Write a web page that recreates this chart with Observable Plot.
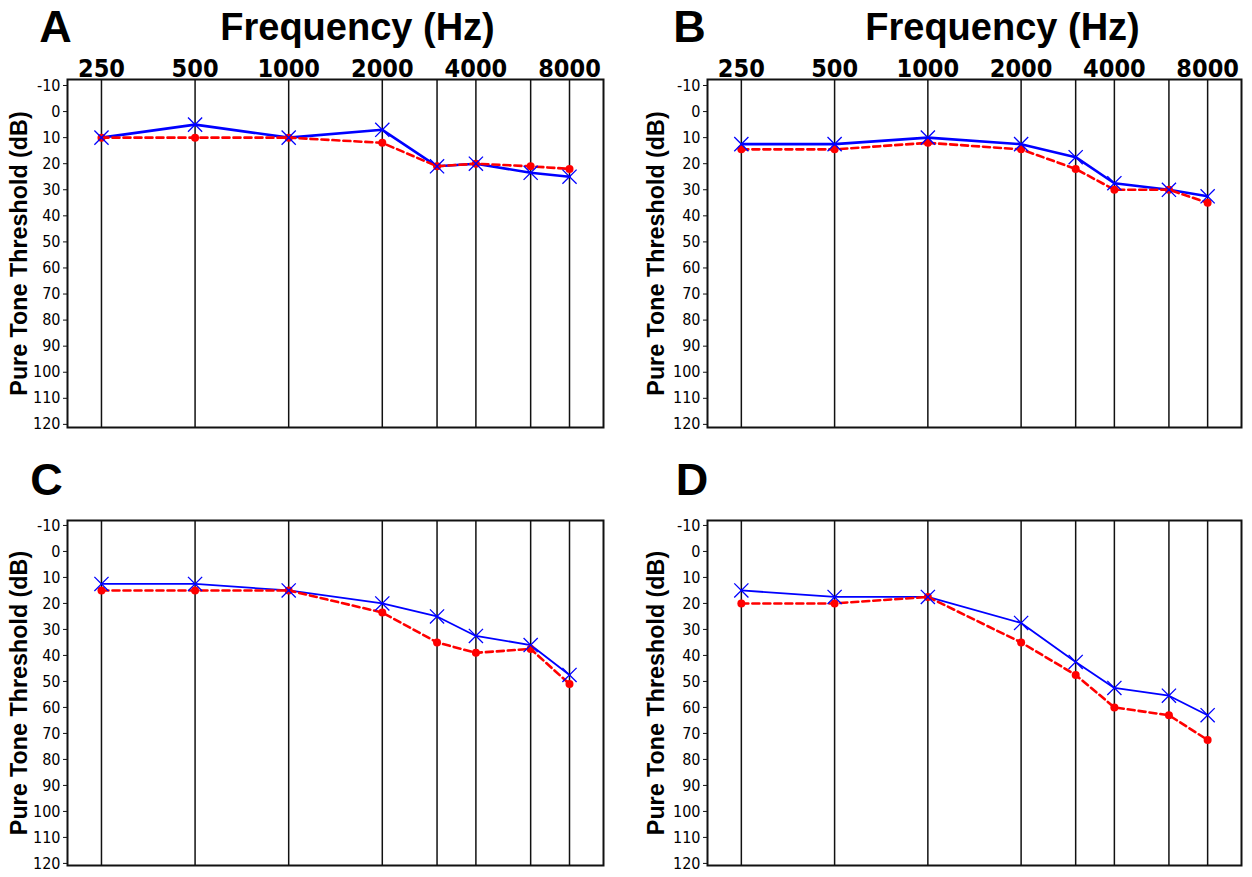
<!DOCTYPE html>
<html>
<head>
<meta charset="utf-8">
<script src="https://cdn.jsdelivr.net/npm/d3@7"></script>
<script src="https://cdn.jsdelivr.net/npm/@observablehq/plot@0.6"></script>
<style>
  html, body { margin: 0; padding: 0; background: #ffffff; }
  #root { position: relative; width: 1252px; height: 877px; overflow: hidden; background: #fff; }
  .cell { position: absolute; }
</style>
</head>
<body>
<div id="root"></div>
<script>
// ---- data ----
const freqs = [250, 500, 1000, 2000, 3000, 4000, 6000, 8000];
const freqLabels = [250, 500, 1000, 2000, 4000, 8000];
const dbTicks = [-10, 0, 10, 20, 30, 40, 50, 60, 70, 80, 90, 100, 110, 120];
const xTitle = "Frequency (Hz)";
const yTitle = "Pure Tone Threshold (dB)";

const blueA = [10, 5, 10, 7, 21, 20, 23.5, 25];
const redA  = [10, 10, 10, 12, 21, 20, 21, 22];
const blueB = [12.5, 12.5, 10, 12.5, 17.5, 27.5, 30, 32.5];
const redB  = [14.5, 14.5, 12, 14.5, 22, 30, 30, 35];
const blueC = [12.5, 12.5, 15, 20, 25, 32.5, 36, 47.5];
const redC  = [15, 15, 15, 23.5, 35, 39, 37.5, 51];
const blueD = [15, 17.5, 17.5, 27.5, 42.5, 52.5, 55.5, 63];
const redD  = [20, 20, 17.5, 35, 47.5, 60, 63, 72.5];

const panels = [
  {letter: "A", blue: blueA, red: redA, top: true,  left: 0,   topPx: 0,   h: 438, mL: 67, mR: 23, mT: 79, mB: 11, ydom: [-12.3, 121.2], lDx: -12, lDy: -51.5, tDx: 22, yDx: -48, bw: 2.6},
  {letter: "B", blue: blueB, red: redB, top: true,  left: 626, topPx: 0,   h: 438, mL: 81, mR: 11, mT: 79, mB: 11, ydom: [-12.3, 121.2], lDx: -18, lDy: -51.5, tDx: 28, yDx: -51, bw: 2.6},
  {letter: "C", blue: blueC, red: redC, top: false, left: 0,   topPx: 438, h: 439, mL: 67, mR: 23, mT: 82, mB: 12, ydom: [-11.9, 120.8], lDx: -21, lDy: -40, tDx: 0, yDx: -48, bw: 1.8},
  {letter: "D", blue: blueD, red: redD, top: false, left: 626, topPx: 438, h: 439, mL: 81, mR: 11, mT: 82, mB: 12, ydom: [-11.9, 120.8], lDx: -15.5, lDy: -40, tDx: 0, yDx: -51, bw: 1.8}
];

const boldFont = "'Liberation Sans', Arial, sans-serif";
const condFont = "'DejaVu Sans Condensed', 'DejaVu Sans', sans-serif";

const root = document.getElementById("root");

for (const p of panels) {
  const rows = freqs.map((f, i) => ({f, blue: p.blue[i], red: p.red[i]}));
  const marks = [
    Plot.ruleX(freqs, {stroke: "#111", strokeWidth: 1.5}),
    Plot.frame({stroke: "#111", strokeWidth: 2}),
    Plot.axisY({anchor: "left", ticks: dbTicks, tickSize: 4, tickPadding: 3,
      tickFormat: d => String(d), fontSize: 16, fontFamily: condFont, label: null, stroke: "#111"}),
    Plot.line(rows, {x: "f", y: "blue", stroke: "#0000ff", strokeWidth: p.bw}),
    Plot.line(rows, {x: "f", y: "red", stroke: "#ff0000", strokeWidth: 2.6, strokeDasharray: "7,4"}),
    Plot.dot(rows, {x: "f", y: "red", fill: "#ff0000", r: 4}),
    Plot.dot(rows, {x: "f", y: "blue", symbol: "times", stroke: "#0000ff", strokeWidth: 1.3, r: 6.5}),
    Plot.text([p.letter], {frameAnchor: "top-left", text: d => d, dx: p.lDx, dy: p.lDy,
      textAnchor: "middle", lineAnchor: "middle", fontSize: 45, fontWeight: "bold", fontFamily: boldFont, fill: "#000"}),
    Plot.text([yTitle], {frameAnchor: "left", text: d => d, dx: p.yDx, rotate: -90,
      textAnchor: "middle", lineAnchor: "middle", fontSize: 23.3, fontWeight: "bold", fontFamily: boldFont, fill: "#000"})
  ];
  if (p.top) {
    marks.push(
      Plot.text(freqLabels, {x: d => d, frameAnchor: "top", text: d => String(d), dy: -3,
        textAnchor: "middle", lineAnchor: "bottom", fontSize: 25, fontWeight: "bold", fontFamily: condFont, fill: "#000"}),
      Plot.text([xTitle], {frameAnchor: "top", text: d => d, dx: p.tDx, dy: -52,
        textAnchor: "middle", lineAnchor: "middle", fontSize: 38, fontWeight: "bold", fontFamily: boldFont, fill: "#000"})
    );
  }
  const chart = Plot.plot({
    width: 626,
    height: p.h,
    marginLeft: p.mL,
    marginRight: p.mR,
    marginTop: p.mT,
    marginBottom: p.mB,
    x: {type: "log", domain: [194.4, 10290], axis: null},
    y: {domain: p.ydom, reverse: true, axis: null},
    style: {background: "#fff", color: "#000", overflow: "visible"},
    marks
  });
  const cell = document.createElement("div");
  cell.className = "cell";
  cell.style.left = p.left + "px";
  cell.style.top = p.topPx + "px";
  cell.appendChild(chart);
  root.appendChild(cell);
}
</script>
</body>
</html>
